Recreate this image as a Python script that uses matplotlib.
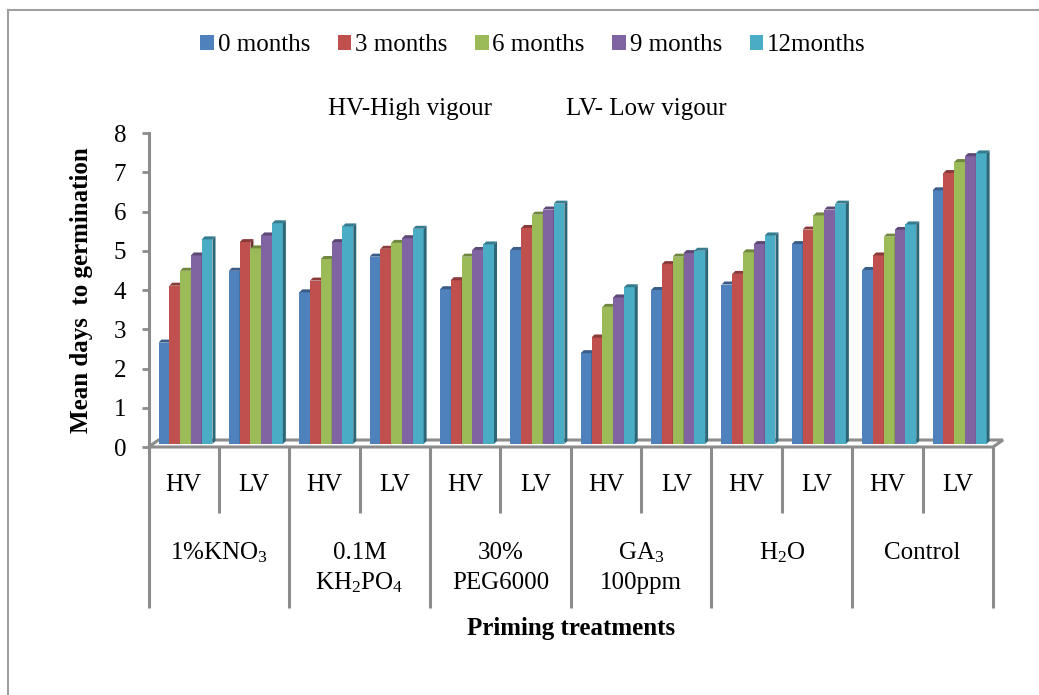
import matplotlib
matplotlib.use('Agg')
import matplotlib.pyplot as plt
from matplotlib.patches import Polygon, Patch
from matplotlib.lines import Line2D
import matplotlib.colors as mcolors
import numpy as np

plt.rcParams['font.family'] = ['Liberation Serif', 'DejaVu Serif']
plt.rcParams['mathtext.fontset'] = 'custom'
plt.rcParams['mathtext.rm'] = 'Liberation Serif'
plt.rcParams['mathtext.it'] = 'Liberation Serif:italic'
plt.rcParams['mathtext.bf'] = 'Liberation Serif:bold'

# ---------------- data ----------------
series_names = ['0 months', '3 months', '6 months', '9 months', '12months']
vigour_labels = ['HV', 'LV', 'HV', 'LV', 'HV', 'LV', 'HV', 'LV', 'HV', 'LV', 'HV', 'LV']
treatment_line1 = ['1%KNO$_3$', '0.1M', '30%', 'GA$_3$', 'H$_2$O', 'Control']
treatment_line2 = ['', 'KH$_2$PO$_4$', 'PEG6000', '100ppm', '', '']
m0 = [2.66, 4.49, 3.94, 4.85, 4.02, 5.02, 2.39, 4.00, 4.14, 5.17, 4.51, 6.54]
m3 = [4.11, 5.22, 4.24, 5.05, 4.25, 5.58, 2.79, 4.66, 4.41, 5.54, 4.88, 6.98]
m6 = [4.49, 5.06, 4.79, 5.20, 4.85, 5.92, 3.57, 4.85, 4.96, 5.90, 5.36, 7.26]
m9 = [4.88, 5.39, 5.22, 5.32, 5.02, 6.05, 3.81, 4.94, 5.17, 6.05, 5.53, 7.41]
m12 = [5.29, 5.70, 5.62, 5.56, 5.16, 6.20, 4.07, 5.00, 5.39, 6.20, 5.67, 7.48]
series_values = [m0, m3, m6, m9, m12]
colors = ['#4F81BD', '#C0504D', '#9BBB59', '#8064A2', '#4BACC6']
y_ticks = [0, 1, 2, 3, 4, 5, 6, 7, 8]

W, H = 1039, 695
def fx(x):
    return x / W
def fy(y):
    return 1 - y / H

fig = plt.figure(figsize=(W / 100, H / 100), dpi=100)

# axes area in pixels
x_left, x_right, y_top, y_bot = 148.5, 993, 133, 447
ax = fig.add_axes([fx(x_left), fy(y_bot), (x_right - x_left) / W, (y_bot - y_top) / H])
n_cat = len(vigour_labels)
ax.set_xlim(0, n_cat)
ax.set_ylim(0, 8)
px_x = (x_right - x_left) / n_cat
px_y = (y_bot - y_top) / 8.0

grey = '#8C8C8C'
for s in ['top', 'right', 'bottom']:
    ax.spines[s].set_visible(False)
ax.spines['left'].set_color(grey)
ax.spines['left'].set_linewidth(2.2)
ax.set_yticks(y_ticks)
ax.set_yticklabels([str(t) for t in y_ticks], fontsize=18)
ax.tick_params(axis='y', length=5, width=2, color=grey, pad=11)
ax.set_xticks([])
ax.patch.set_alpha(0)

# floor
dxf = 10 / px_x
dyf = 7 / px_y
floor = Polygon([(0, 0), (n_cat, 0), (n_cat + dxf, dyf), (dxf, dyf)], closed=True,
                fill=False, edgecolor=grey, linewidth=2.2, clip_on=False, zorder=1)
ax.add_patch(floor)

# bars with pseudo 3D faces
bw = 10.8 / px_x
start = 10 / px_x
dx = 3 / px_x
dy = 3 / px_y
base = dy
def darken(c, f):
    r, g, b = mcolors.to_rgb(c)
    return (r * f, g * f, b * f)

z = 2
for i in range(n_cat):
    for k, vals in enumerate(series_values):
        v = vals[i]
        x0 = i + start + k * bw
        ax.bar(x0, v - base, width=bw, bottom=base, align='edge', color=colors[k],
               linewidth=0, zorder=z, clip_on=False)
        top = Polygon([(x0, v), (x0 + bw, v), (x0 + bw + dx, v + dy), (x0 + dx, v + dy)],
                      closed=True, facecolor=darken(colors[k], 0.72), edgecolor='none',
                      zorder=z, clip_on=False)
        side = Polygon([(x0 + bw, base), (x0 + bw, v), (x0 + bw + dx, v + dy), (x0 + bw + dx, base + dy)],
                       closed=True, facecolor=darken(colors[k], 0.6), edgecolor='none',
                       zorder=z, clip_on=False)
        ax.add_patch(top)
        ax.add_patch(side)
        z += 0.01

# category axis separators and labels
trans = ax.get_xaxis_transform()
def ay(ypx):
    return (y_bot - ypx) / (y_bot - y_top)

for b in range(n_cat + 1):
    bottom_px = 608 if b % 2 == 0 else 513
    ax.plot([b, b], [0, ay(bottom_px)], transform=trans, color=grey, lw=2.2,
            clip_on=False, solid_capstyle='butt')

for i, lab in enumerate(vigour_labels):
    ax.text(i + 0.5, ay(485), lab, transform=trans, ha='center', va='center', fontsize=18)

for g in range(len(treatment_line1)):
    xc = 2 * g + 1
    ax.text(xc, ay(553), treatment_line1[g], transform=trans, ha='center', va='center', fontsize=18)
    if treatment_line2[g]:
        ax.text(xc, ay(583), treatment_line2[g], transform=trans, ha='center', va='center', fontsize=18)

ax.text(n_cat / 2, ay(628), 'Priming treatments', transform=trans, ha='center', va='center',
        fontsize=18, fontweight='bold')

# y label
fig.text(fx(82), fy(290), 'Mean days  to germination', rotation=90, ha='center', va='center',
         fontsize=18, fontweight='bold')

# subtitle
fig.text(fx(328), fy(109), 'HV-High vigour', ha='left', va='center', fontsize=18)
fig.text(fx(566), fy(109), 'LV- Low vigour', ha='left', va='center', fontsize=18)

# legend
handles = [Patch(facecolor=c, edgecolor='none') for c in colors]
fig.legend(handles, series_names, loc='center', bbox_to_anchor=(fx(533), fy(45)), ncol=5,
           frameon=False, fontsize=18, handlelength=0.55, handleheight=0.55,
           handletextpad=0.15, columnspacing=1.1, borderpad=0)

# outer border (partially cropped)
fig.add_artist(Line2D([fx(8), fx(8)], [fy(10), 0], color='#A0A0A0', lw=1.5))
fig.add_artist(Line2D([fx(8), 1], [fy(10), fy(10)], color='#A0A0A0', lw=1.5))

fig.savefig('out.png', dpi=100)
